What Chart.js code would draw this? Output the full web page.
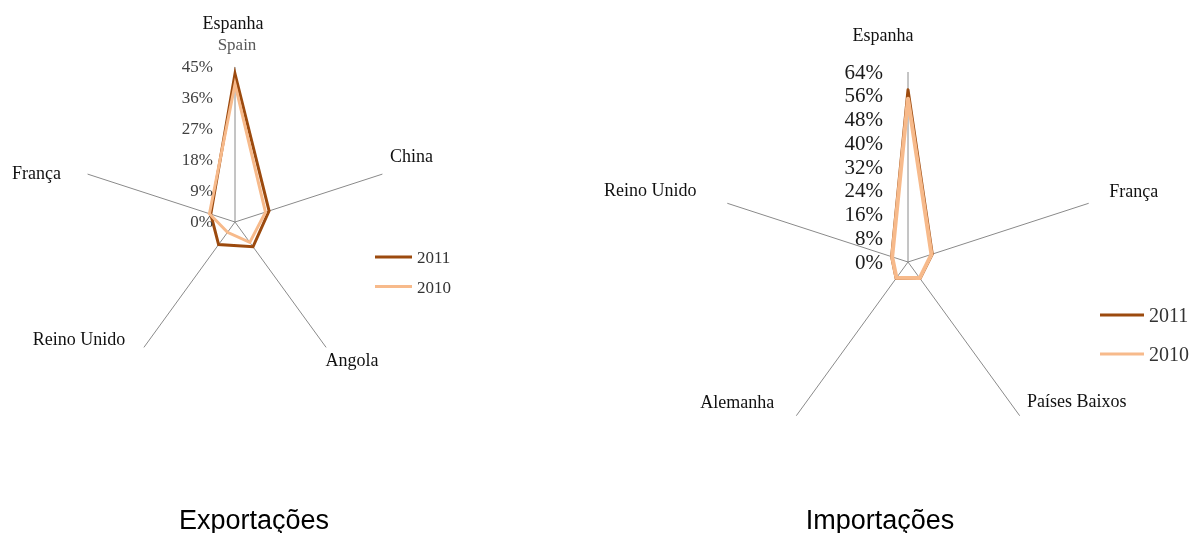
<!DOCTYPE html>
<html lang="pt">
<head>
<meta charset="UTF-8">
<title>Exportações e Importações</title>
<script src="https://cdn.jsdelivr.net/npm/chart.js"></script>
<style>
  body { margin: 0; background: #fff; width: 1194px; height: 533px; position: relative; overflow: hidden; }
  .painel { position: absolute; top: 0; width: 597px; height: 533px; }
  .titulo { position: absolute; top: 505px; font-family: "Liberation Sans", Arial, sans-serif; font-size: 27px; color: #000; transform: translateX(-50%); white-space: nowrap; line-height: 30px; }
</style>
</head>
<body>

<div class="painel" style="left:0"><canvas id="graficoExportacoes" width="597" height="533"></canvas></div>
<div class="painel" style="left:597px"><canvas id="graficoImportacoes" width="597" height="533"></canvas></div>

<div class="titulo" style="left:254px">Exportações</div>
<div class="titulo" style="left:880px">Importações</div>

<script>
// dados - exportações
const paisesExp = ['Espanha', 'China', 'Angola', 'Reino Unido', 'França'];
const exp2011 = [43, 10.4, 8.9, 8.1, 7.4];
const exp2010 = [40, 9.3, 7.3, 3.7, 7.8];
const ticksExp = [0, 9, 18, 27, 36, 45];

// dados - importações
const paisesImp = ['Espanha', 'França', 'Países Baixos', 'Alemanha', 'Reino Unido'];
const imp2011 = [58, 8.6, 6.9, 6.8, 5.8];
const imp2010 = [55, 8.3, 6.7, 6.6, 5.6];
const ticksImp = [0, 8, 16, 24, 32, 40, 48, 56, 64];

const anos = ['2011', '2010'];
const corEscura = '#9C4A0E';
const corClara = '#F7BA8B';

// textos extra, eixos e legenda desenhados no canvas
const extras = {
    id: 'extras',
    afterDraw(chart, args, o) {
        const ctx = chart.ctx;
        const r = chart.scales.r;
        ctx.save();

        // nomes dos países
        ctx.font = '18px "Liberation Serif", serif';
        ctx.fillStyle = '#111';
        ctx.textAlign = 'center';
        ctx.textBaseline = 'middle';
        chart.data.labels.forEach((nome, i) => {
            const p = r.getPointPosition(i, r.drawingArea);
            ctx.fillText(nome, p.x + o.offsets[i][0], p.y + o.offsets[i][1]);
        });
        if (o.sub) {
            const p = r.getPointPosition(0, r.drawingArea);
            ctx.font = '17px "Liberation Serif", serif';
            ctx.fillStyle = '#595959';
            ctx.fillText(o.sub, p.x + 2, p.y - 21);
        }

        // rótulos do eixo
        ctx.font = o.tickFont;
        ctx.fillStyle = o.tickColor;
        ctx.textAlign = 'right';
        o.ticks.forEach(v => {
            const y = r.yCenter - r.getDistanceFromCenterForValue(v);
            ctx.fillText(v + '%', r.xCenter - o.tickGap, y + 1);
        });

        // legenda
        ctx.textAlign = 'left';
        ctx.font = o.legFont;
        chart.data.datasets.forEach((ds, i) => {
            const y = o.legY + i * o.legGap;
            ctx.strokeStyle = ds.borderColor;
            ctx.lineWidth = 3;
            ctx.beginPath();
            ctx.moveTo(o.legX, y);
            ctx.lineTo(o.legX + o.legLen, y);
            ctx.stroke();
            ctx.fillStyle = '#333';
            ctx.fillText(ds.label, o.legX + o.legLen + 5, y + 2);
        });
        ctx.restore();
    }
};

function criarRadar(id, paises, serie2011, serie2010, ticks, padding, extraOpts) {
    new Chart(document.getElementById(id), {
        type: 'radar',
        data: {
            labels: paises,
            datasets: [
                { label: anos[0], data: serie2011, borderColor: corEscura, borderWidth: 3, order: 1 },
                { label: anos[1], data: serie2010, borderColor: corClara, borderWidth: extraOpts.lightWidth, order: 0 }
            ]
        },
        options: {
            responsive: false,
            animation: false,
            layout: { padding: padding },
            elements: {
                point: { radius: 0 },
                line: { fill: false, tension: 0, borderJoinStyle: extraOpts.join }
            },
            scales: {
                r: {
                    min: ticks[0],
                    max: ticks[ticks.length - 1],
                    afterBuildTicks: s => { s.ticks = ticks.map(v => ({ value: v })); },
                    ticks: { display: false },
                    grid: { display: false },
                    pointLabels: { display: false },
                    angleLines: { color: '#8a8a8a', lineWidth: 1 }
                }
            },
            plugins: {
                legend: { display: false },
                tooltip: { enabled: false },
                extras: extraOpts
            }
        },
        plugins: [extras]
    });
}

criarRadar('graficoExportacoes', paisesExp, exp2011, exp2010, ticksExp,
    { left: 80, top: 67, right: 207, bottom: 156 },
    {
        offsets: [[-2, -43], [29, -17], [26, 14], [-65, -7], [-51, 0]],
        sub: 'Spain',
        ticks: ticksExp,
        tickFont: '17px "Liberation Serif", serif',
        tickColor: '#404040',
        tickGap: 22,
        legX: 375, legY: 257, legGap: 29.5, legLen: 37,
        legFont: '17px "Liberation Serif", serif',
        lightWidth: 3,
        join: 'miter'
    });

criarRadar('graficoImportacoes', paisesImp, imp2011, imp2010, ticksImp,
    { left: 121, top: 72, right: 96, bottom: 81 },
    {
        offsets: [[-25, -36], [45, -11], [57, -13], [-59, -12], [-77, -12]],
        sub: null,
        ticks: ticksImp,
        tickFont: '21px "Liberation Serif", serif',
        tickColor: '#1a1a1a',
        tickGap: 25,
        legX: 503, legY: 315, legGap: 39, legLen: 44,
        legFont: '20px "Liberation Serif", serif',
        lightWidth: 4,
        join: 'round'
    });
</script>
</body>
</html>
